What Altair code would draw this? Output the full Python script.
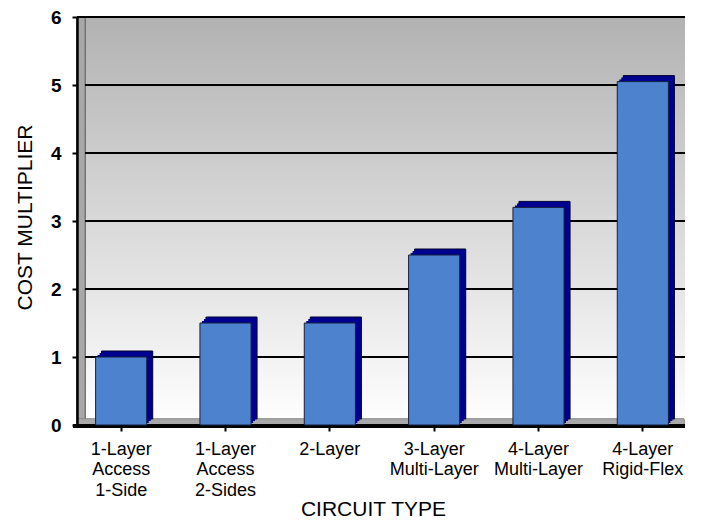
import altair as alt
import pandas as pd

categories = ["1-Layer Access 1-Side", "1-Layer Access 2-Sides", "2-Layer",
              "3-Layer Multi-Layer", "4-Layer Multi-Layer", "4-Layer Rigid-Flex"]
values = [1.0, 1.5, 1.5, 2.5, 3.2, 5.05]
grid_values = [1, 2, 3, 4, 5, 6]

bars = pd.DataFrame({"cat": categories, "value": values})
grid = pd.DataFrame({"g": grid_values})

FONT = "Liberation Sans"
W, H = 608, 408

yscale = alt.Scale(domain=[0, 6], nice=False)
xscale = alt.Scale(range=[-8, 618], paddingInner=0.51, paddingOuter=0.255)

# back wall with gradient
wall = alt.Chart(grid).mark_rect(
    fill=alt.Gradient(gradient="linear", x1=0, x2=0, y1=0, y2=1,
                      stops=[alt.GradientStop(offset=0, color="#b2b2b2"),
                             alt.GradientStop(offset=1, color="#fefefe")])
).encode(x=alt.value(8), x2=alt.value(W), y=alt.value(0), y2=alt.value(H - 6))

left_wall = alt.Chart(grid).mark_rect(fill="#a8a8a8", stroke="#6e6e6e", strokeWidth=0.8).encode(
    x=alt.value(0), x2=alt.value(8), y=alt.value(0), y2=alt.value(H))

gridlines = alt.Chart(grid).mark_rule(color="black", strokeWidth=2).encode(
    y=alt.Y("g:Q", scale=yscale),
    x=alt.value(8), x2=alt.value(W))

top_line = alt.Chart(grid).mark_rule(color="black", strokeWidth=2).encode(
    y=alt.value(0), x=alt.value(0), x2=alt.value(W))

floor = alt.Chart(grid).mark_rect(fill="#a9a9a9", stroke="#888888", strokeWidth=0.5).encode(
    x=alt.value(0), x2=alt.value(W - 1), y=alt.value(H - 6), y2=alt.value(H))

front_line = alt.Chart(grid).mark_rule(color="black", strokeWidth=3).encode(
    y=alt.value(H + 1), x=alt.value(-4), x2=alt.value(W))

xenc = alt.X("cat:N", sort=None, scale=xscale,
             axis=alt.Axis(title="CIRCUIT TYPE", labelAngle=0, domain=False,
                           labelExpr="split(datum.label, ' ')",
                           labelFont=FONT, labelFontSize=18, labelColor="black",
                           labelLineHeight=20.5, labelPadding=9, labelBaseline="top",
                           tickColor="black", tickWidth=2, tickSize=6,
                           titleFont=FONT, titleFontSize=21, titleFontWeight="normal",
                           titleColor="black", titleX=296, titleY=90,
                           titleBaseline="alphabetic", titleAlign="center",
                           zindex=1))
yenc = alt.Y("value:Q", scale=yscale,
             axis=alt.Axis(title="COST MULTIPLIER", values=[0, 1, 2, 3, 4, 5, 6],
                           format="d",
                           grid=False, domainColor="black", domainWidth=2.5,
                           tickColor="black", tickWidth=2, tickSize=5,
                           labelFont=FONT, labelFontSize=19, labelFontWeight="bold",
                           labelColor="black", labelPadding=11,
                           titleFont=FONT, titleFontSize=21, titleFontWeight="normal",
                           titleColor="black", titleX=-46, titleY=200,
                           titleBaseline="alphabetic", titleAlign="center",
                           zindex=1))

back_mid1 = alt.Chart(bars).mark_bar(fill="#000090", xOffset=2, yOffset=-2, y2Offset=-2).encode(
    x=xenc, y=yenc)
back_mid2 = alt.Chart(bars).mark_bar(fill="#000090", xOffset=4, yOffset=-4, y2Offset=-4).encode(
    x=xenc, y=yenc)
back = alt.Chart(bars).mark_bar(fill="#000090", stroke="#000030", strokeWidth=1,
                                xOffset=6, yOffset=-6, y2Offset=-6).encode(x=xenc, y=yenc)
front = alt.Chart(bars).mark_bar(fill="#4d82cf", stroke="#15203a", strokeWidth=1).encode(
    x=xenc, y=yenc)

chart = alt.layer(wall, left_wall, gridlines, top_line, floor, front_line,
                  back, back_mid2, back_mid1, front).properties(
    width=W, height=H,
    autosize="none",
    padding={"left": 69, "top": 9, "right": 9, "bottom": 96},
    background="white",
).configure_view(stroke=None)

chart.save("out.html", embed_options={"renderer": "svg", "actions": False})
